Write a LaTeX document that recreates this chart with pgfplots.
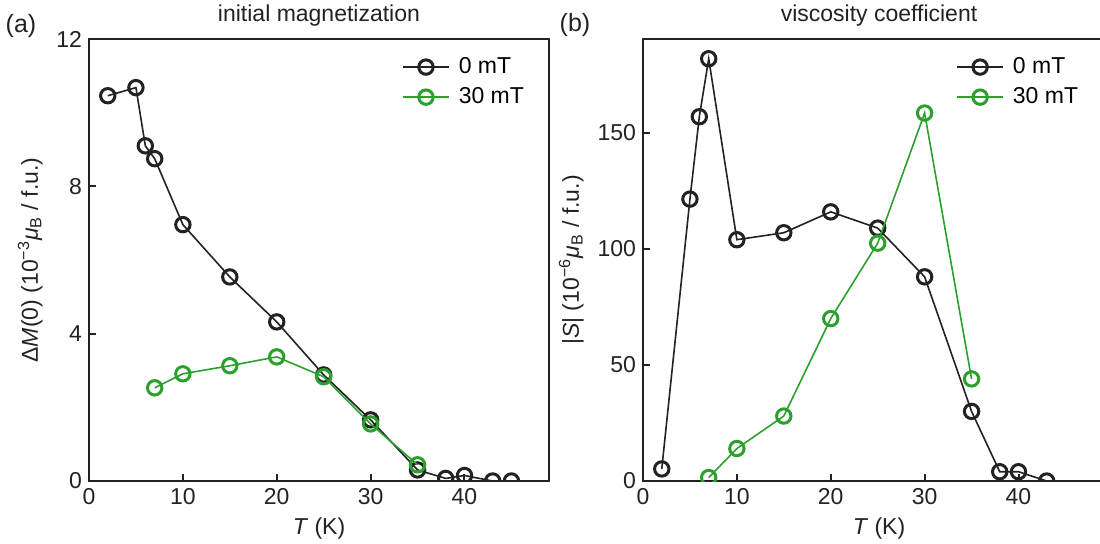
\documentclass[border=0pt]{standalone}
\usepackage{fontspec}
\setmainfont{Liberation Sans}
\usepackage{pgfplots}
\pgfplotsset{compat=1.18}
\definecolor{dk}{HTML}{222222}
\definecolor{gr}{HTML}{2CA02C}

\pgfplotsset{
  panel/.style={
    scale only axis, width=230pt, height=221pt,
    xmin=0, xmax=49,
    xtick={0,10,20,30,40},
    tick align=inside, major tick length=3.5pt,
    xtick pos=bottom, ytick pos=left,
    axis line style={dk, line width=1.25pt},
    tick style={dk, line width=1pt},
    every tick label/.style={font=\fontsize{11.5}{13}\selectfont, text=dk},
    label style={font=\fontsize{11.5}{13}\selectfont, text=dk},
    title style={font=\fontsize{11.5}{13}\selectfont, text=dk, yshift=-3pt},
    /pgf/number format/assume math mode=true,
    xlabel={\textit{T} (K)},
    clip=true, clip marker paths=true,
    legend style={draw=none, fill=none, inner sep=0pt, at={(0.68,0.968)}, anchor=north west,
      font=\fontsize{11.5}{13}\selectfont, row sep=1.5pt,
      nodes={inner xsep=4.5pt}},
    legend cell align=left,
    legend image code/.code={
      \draw[mark repeat=2, mark phase=2] plot coordinates {(0pt,0pt) (11.5pt,0pt) (23pt,0pt)};
    },
  },
  s0/.style={dk, line width=0.8pt, mark=o, mark size=3.6pt,
    mark options={line width=1.5pt, fill=white}},
  s30/.style={gr, line width=0.8pt, mark=o, mark size=3.6pt,
    mark options={line width=1.5pt, fill=white}},
}

\begin{document}
\begin{tikzpicture}
\begin{axis}[panel,
  ymin=0, ymax=12, ytick={0,4,8,12},
  title={initial magnetization},
  ylabel={Δ\textit{M}(0) (10\textsuperscript{−3}\textit{μ}\textsubscript{B} / f.u.)},
]
\addplot[s0] coordinates {
  (2,10.46) (5,10.68) (6,9.10) (7,8.75) (10,6.96) (15,5.54) (20,4.32)
  (25,2.88) (30,1.66) (35,0.30) (38,0.07) (40,0.15) (43,0.0) (45,0.0)
};
\addplot[s30] coordinates {
  (7,2.53) (10,2.91) (15,3.13) (20,3.37) (25,2.83) (30,1.55) (35,0.44)
};
\legend{0 mT, 30 mT}
\end{axis}
\node[font=\fontsize{12.5}{14}\selectfont, text=dk] at (-34pt,227.5pt) {(a)};

% the right panel runs past the edge of the figure, as in the source
\begin{axis}[panel, xshift=277pt, width=236pt, xmax=50.28,
  legend style={at={(0.663,0.968)}},
  ymin=0, ymax=190.5, ytick={0,50,100,150},
  title={viscosity coefficient},
  ylabel={|\textit{S}| (10\textsuperscript{−6}\textit{μ}\textsubscript{B} / f.u.)},
]
\addplot[s0] coordinates {
  (2,5.2) (5,121.5) (6,157) (7,182) (10,104) (15,107) (20,116)
  (25,109) (30,88) (35,30) (38,4) (40,4) (43,0) (45,-1.5)
};
\addplot[s30] coordinates {
  (7,1.5) (10,14) (15,28) (20,70) (25,102.5) (30,158.6) (35,44)
};
\legend{0 mT, 30 mT}
\end{axis}
\node[font=\fontsize{12.5}{14}\selectfont, text=dk] at (243pt,228pt) {(b)};
\pgfresetboundingbox
\path (-44.5pt,-31pt) rectangle (505.5pt,240.5pt);
\end{tikzpicture}
\end{document}
